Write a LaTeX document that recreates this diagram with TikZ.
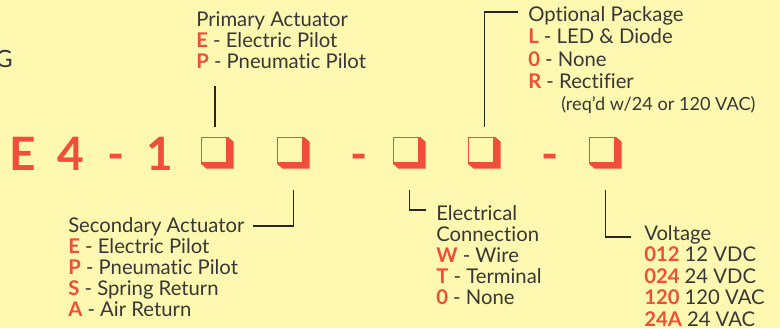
\documentclass[tikz,border=0pt]{standalone}
\usepackage{fontspec}
\setmainfont{Lato}[Ligatures={TeX,NoCommon}]
\definecolor{padyellow}{RGB}{255,248,176}
\definecolor{codered}{RGB}{240,78,58}
\definecolor{inkgray}{RGB}{55,55,55}
\newcommand{\optkey}[1]{\textcolor{codered}{\bfseries #1}}

\begin{document}
\begin{tikzpicture}[x=0.75pt,y=-0.75pt,
  lbl/.style={anchor=base west,inner sep=0pt,text=inkgray,font=\fontsize{15.2}{17}\selectfont},
  note/.style={lbl,font=\fontsize{13.6}{15}\selectfont},
  code/.style={anchor=base,inner sep=0pt,text=codered,font=\fontsize{34.5}{36}\selectfont\bfseries},
  slot/.style={minimum width=24.75pt,minimum height=24pt,inner sep=0pt},
  lead/.style={draw=black!85,line width=1pt}]
\fill[padyellow] (0,0) rectangle (780,328);
\useasboundingbox (0,0) rectangle (780,328);
\clip (0,0) rectangle (780,328);
% Title tail
\node[anchor=base east,inner sep=0pt,text=inkgray,font=\fontsize{17.8}{20}\selectfont] (ttl) at (13,67) {G};
% Code row
\foreach \c/\x [count=\i] in {E/22.5,4/71,-/116.5,1/159.5,-/359.5,-/550.5}
  \node[code] (c\i) at (\x,170) {\c};
\foreach \x [count=\i] in {201,277,393,468,589} {
  \node[slot] (b\i) at ({\x+16.5},153) {};
  \fill[codered] (b\i.north west) ++(27,0) -- ++(6,5) -- ++(0,27) -- ++(-27,0) -- ++(-6,-5) -- ++(27,0) -- cycle;
  \draw[codered,line width=1.3pt] ([shift={(0.85,0.85)}]b\i.north west) rectangle ++(25.3,25.3);
}
% Primary actuator
\node[lbl] (pa) at (196,27) {Primary Actuator};
\foreach \k/\t [count=\i] in {E/Electric Pilot,P/Pneumatic Pilot}
  \node[lbl] (pa\i) at (196,{27+21*\i}) {\optkey{\k} - \t};
\coordinate (pa-tip) at (215,86);
\draw[lead,shorten >=7.5pt] (pa-tip) -- (pa-tip |- b1.north);
% Optional package
\node[lbl] (op) at (528,22) {Optional Package};
\foreach \k/\t [count=\i] in {L/LED \& Diode,0/None,R/Rectifier}
  \node[lbl] (op\i) at (528,{22+22*\i}) {\optkey{\k} - \t};
\node[note] (opnote) at (561,110) {(req'd w/24 or 120 VAC)};
\coordinate (op-tip) at (518,12);
\draw[lead,shorten >=7.5pt] (op-tip) -| (b4.north);
% Secondary actuator
\node[lbl] (sa) at (68,232) {Secondary Actuator};
\foreach \k/\t [count=\i] in {E/Electric Pilot,P/Pneumatic Pilot,S/Spring Return,A/Air Return}
  \node[lbl] (sa\i) at (68,{232+21.2*\i}) {\optkey{\k} - \t};
\coordinate (sa-tip) at (253,226);
\draw[lead,shorten >=15.75pt] (sa-tip) -| (b2.south);
% Electrical connection
\node[lbl] (ec) at (436,220) {Electrical};
\node[lbl] (ec0) at (436,241) {Connection};
\foreach \k/\t [count=\i] in {W/Wire,T/Terminal,0/None}
  \node[lbl] (ec\i) at (436,{241+21.3*\i}) {\optkey{\k} - \t};
\coordinate (ec-tip) at (426,210);
\draw[lead,shorten >=15.75pt] (ec-tip) -| (b3.south);
% Voltage
\node[lbl] (vo) at (644,240) {Voltage};
\foreach \k/\t [count=\i] in {012/12 VDC,024/24 VDC,120/120 VAC,24A/24 VAC}
  \node[lbl] (vo\i) at (644,{240+21.5*\i}) {\optkey{\k} \t};
\coordinate (vo-tip) at (631,237);
\draw[lead,shorten >=15.75pt] (vo-tip) -| (b5.south);
\end{tikzpicture}
\end{document}
